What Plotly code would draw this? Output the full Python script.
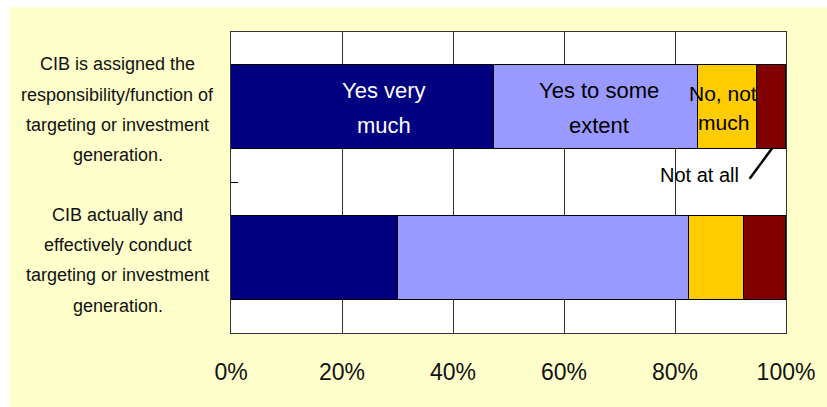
import plotly.graph_objects as go

# ---------------- data ----------------
categories = [
    ["CIB is assigned the", "responsibility/function of", "targeting or investment", "generation."],
    ["CIB actually and", "effectively conduct", "targeting or investment", "generation."],
]
series_names = ["Yes very much", "Yes to some extent", "No, not much", "Not at all"]
yes_very_much = [47.4, 30.0]
yes_some_extent = [36.8, 52.5]
no_not_much = [10.5, 10.0]
not_at_all = [5.3, 7.5]
series_values = [yes_very_much, yes_some_extent, no_not_much, not_at_all]
colors = ["#000080", "#9999FF", "#FFCC00", "#800000"]
tick_vals = [0, 20, 40, 60, 80, 100]
tick_text = ["0%", "20%", "40%", "60%", "80%", "100%"]

FONT = "Liberation Sans, Arial, sans-serif"
BAR_W = 0.557
# numeric y positions: first category on top
ypos = [len(categories) - 1 - i for i in range(len(categories))]

fig = go.Figure()
for name, vals, col in zip(series_names, series_values, colors):
    fig.add_trace(go.Bar(
        y=ypos, x=vals, name=name, orientation="h", width=BAR_W,
        marker=dict(color=col, line=dict(color="#000000", width=1)),
        hoverinfo="x+name",
    ))

# yellow panel background, then white plot area on top of it
fig.add_shape(type="rect", xref="paper", yref="paper",
              x0=-0.3992, x1=1.2, y0=-0.4, y1=1.082,
              fillcolor="#FFFFCC", line=dict(width=0), layer="below")
fig.add_shape(type="rect", xref="paper", yref="paper",
              x0=0, x1=1, y0=0, y1=1,
              fillcolor="#FFFFFF", line=dict(width=0), layer="below")

annotations = []
# category labels (each line separately for Excel-like line spacing)
for cat, yp in zip(categories, ypos):
    n = len(cat)
    for j, line in enumerate(cat):
        off = (j - (n - 1) / 2) * 30.3 + 2.5
        annotations.append(dict(
            x=0, xref="paper", y=yp, yref="y", xshift=-113.5, yshift=-off,
            text=line, showarrow=False, xanchor="center", yanchor="middle",
            font=dict(family=FONT, size=18, color="#111111")))

# in-bar labels on the top bar
top = 0
cum = []
s = 0
for vals in series_values:
    cum.append((s, s + vals[top]))
    s += vals[top]

bar_labels = [
    (0, ["Yes very", "much"], "#FFFFFF", 22, 21, 35),
    (1, ["Yes to some", "extent"], "#000000", 22, 3, 35),
    (2, ["No, not", "much"], "#000000", 21, -4, 29),
]
for idx, lines, col, size, xs, spacing in bar_labels:
    xc = (cum[idx][0] + cum[idx][1]) / 2
    n = len(lines)
    for j, line in enumerate(lines):
        off = (j - (n - 1) / 2) * spacing + 0.5
        annotations.append(dict(
            x=xc, xref="x", y=ypos[top], yref="y", xshift=xs, yshift=-off,
            text=line, showarrow=False, xanchor="center", yanchor="middle",
            font=dict(family=FONT, size=size, color=col)))

# "Not at all" callout
maroon_c = (cum[3][0] + cum[3][1]) / 2
annotations.append(dict(
    x=cum[2][1], xref="x", y=ypos[top], yref="y", xshift=-56.6, yshift=-67.5,
    text="Not at all", showarrow=False, xanchor="center", yanchor="middle",
    font=dict(family=FONT, size=20, color="#000000")))
fig.add_shape(type="line", xref="x", yref="y",
              xsizemode="pixel", ysizemode="pixel",
              xanchor=maroon_c, yanchor=ypos[top] - BAR_W / 2,
              x0=1.6, y0=2, x1=-21.7, y1=-29.7,
              line=dict(color="#000000", width=2.5))

fig.update_layout(
    width=827, height=407,
    margin=dict(l=231, r=41, t=32, b=74, pad=0),
    paper_bgcolor="#FFFFFF", plot_bgcolor="#FFFFFF",
    barmode="stack", showlegend=False, bargap=0,
    annotations=annotations,
    font=dict(family=FONT, color="#000000"),
)
fig.update_xaxes(
    range=[0, 100], tickvals=tick_vals, ticktext=tick_text,
    tickfont=dict(family=FONT, size=23, color="#111111"),
    showgrid=True, gridcolor="#333333", gridwidth=1, zeroline=False,
    showline=True, linecolor="#333333", linewidth=1, mirror=True,
    ticks="", ticklabelstandoff=18, fixedrange=True,
)
fig.update_yaxes(
    range=[-0.5, 1.5], tickvals=[0.5], ticktext=[""],
    ticks="inside", ticklen=7, tickcolor="#000000", tickwidth=1,
    showgrid=False, zeroline=False,
    showline=True, linecolor="#333333", linewidth=1, mirror=True,
    fixedrange=True,
)

fig.write_html("out.html")
